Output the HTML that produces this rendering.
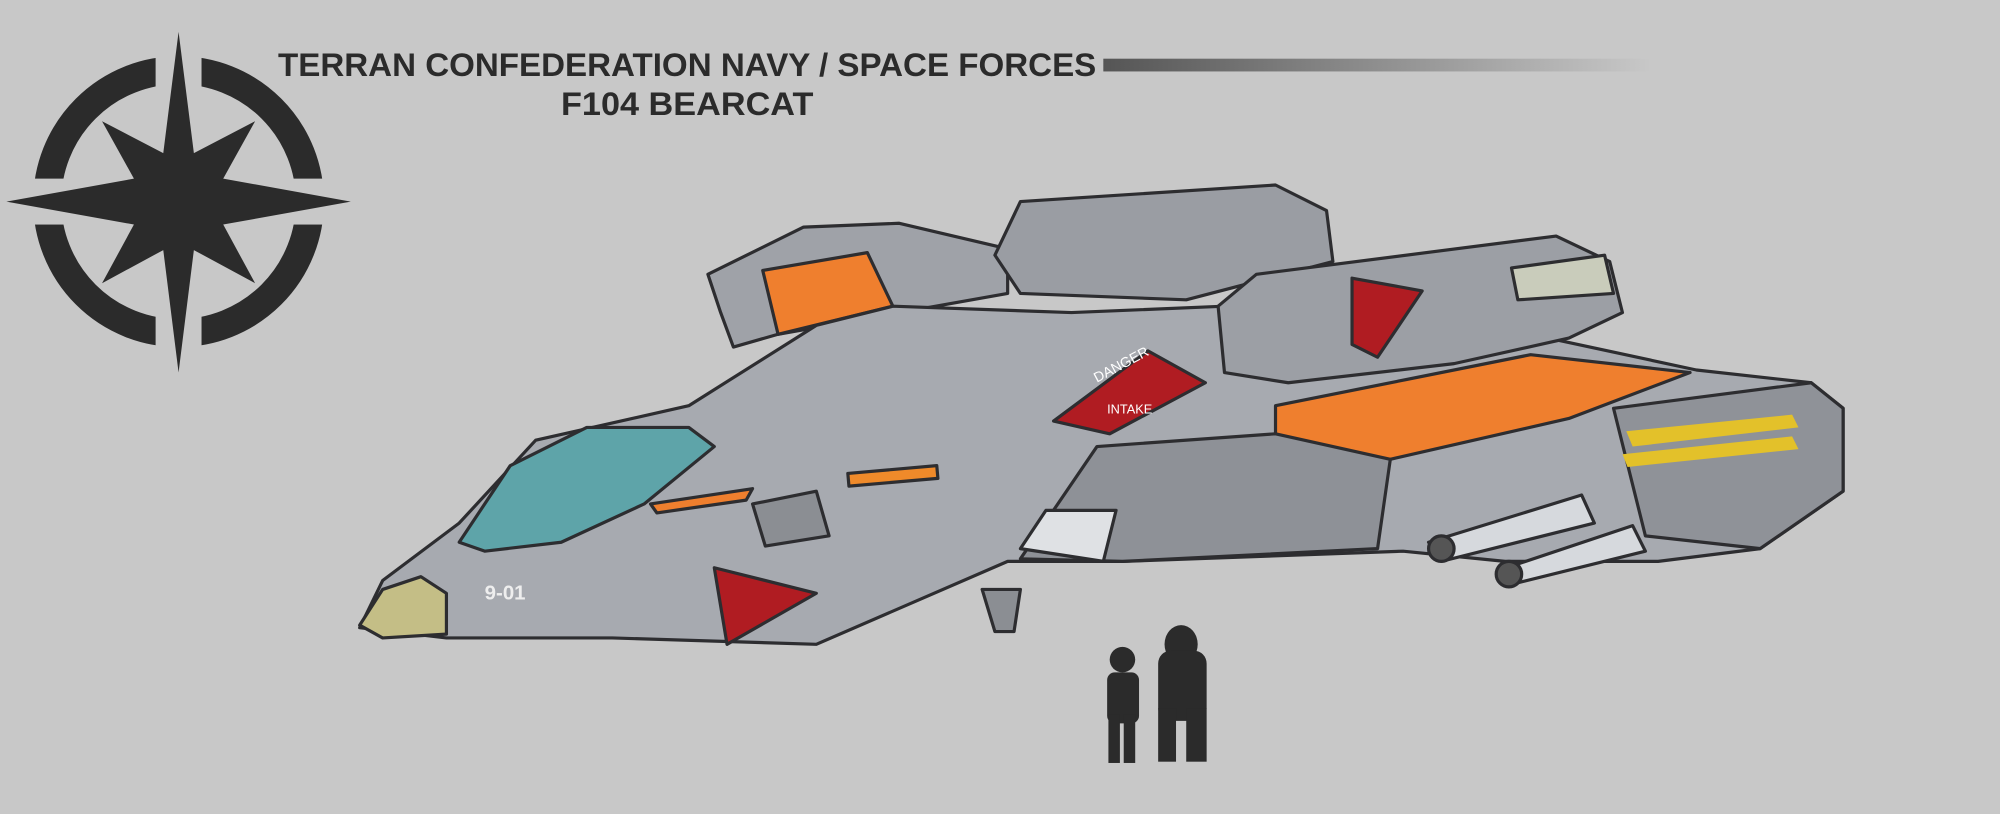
<!DOCTYPE html>
<html><head><meta charset="utf-8"><style>
html,body{margin:0;padding:0;background:#c8c8c8;}
body{width:2000px;height:814px;overflow:hidden;position:relative;}
svg{position:absolute;left:0;top:0;}
.t{position:absolute;font-family:"Liberation Sans",sans-serif;font-weight:bold;color:#2b2b2b;white-space:nowrap;transform-origin:0 0;}
</style></head><body>
<svg width="2000" height="814" viewBox="0 0 1568 638" preserveAspectRatio="none">
<defs>
<linearGradient id="bar" x1="0" x2="1"><stop offset="0" stop-color="#555"/><stop offset="1" stop-color="#c8c8c8"/></linearGradient>
</defs>
<rect x="865" y="46" width="430" height="10" fill="url(#bar)"/>
<g fill="#2b2b2b">
<circle cx="140" cy="158" r="103" fill="none" stroke="#2b2b2b" stroke-width="22"/>
<rect x="122" y="40" width="36" height="236" fill="#c8c8c8"/>
<rect x="20" y="140" width="240" height="36" fill="#c8c8c8"/>
<polygon points="140,25 152,120 200,95 175,140 275,158 175,176 200,222 152,196 140,292 128,196 80,222 105,176 5,158 105,140 80,95 128,120"/>
</g>
<g stroke="#2d2d30" stroke-width="2.5" stroke-linejoin="round">
<polygon fill="#9fa2a8" points="555,215 630,178 705,175 790,195 790,230 610,262 575,272 565,245"/>
<polygon fill="#ef7f2e" points="598,212 680,198 700,240 610,262"/>
<polygon fill="#9a9da3" points="780,200 800,158 1000,145 1040,165 1045,205 930,235 800,230"/>
<polygon fill="#a7aab0" points="282,492 300,455 360,410 420,345 540,318 640,255 700,240 840,245 960,240 1000,290 1200,262 1330,290 1420,300 1445,320 1445,385 1380,430 1300,440 1180,440 1100,432 880,440 790,440 640,505 480,500 350,500"/>
<polygon fill="#9c9fa5" points="955,240 985,215 1220,185 1262,205 1272,245 1230,265 1140,285 1010,300 960,292"/>
<polygon fill="#ef7f2e" points="1000,318 1200,278 1325,292 1230,328 1090,360 1000,356"/>
<polygon fill="#8f9298" points="1265,320 1420,300 1445,320 1445,385 1380,430 1290,420"/>
<polygon fill="#e3c12a" stroke="none" points="1275,338 1405,325 1410,335 1280,350"/>
<polygon fill="#e3c12a" stroke="none" points="1272,356 1405,342 1410,352 1276,366"/>
<polygon fill="#b01c22" points="826,330 900,275 945,300 870,340"/>
<polygon fill="#b01c22" points="1060,218 1115,228 1080,280 1060,270"/>
<polygon fill="#b01c22" points="560,445 640,465 570,505"/>
<polygon fill="#5ea4a9" points="360,425 400,365 460,335 540,335 560,350 505,395 440,425 380,432"/>
<polygon fill="#c4be86" points="282,490 300,462 330,452 350,465 350,497 300,500"/>
<polygon fill="#8e9197" points="860,350 1000,340 1090,360 1080,430 880,440 800,438"/>
<polygon fill="#ef7f2e" points="510,395 590,383 585,392 515,402"/>
<rect x="665" y="368" width="70" height="10" fill="#ef8a2a" transform="rotate(-5 700 373)"/>
<polygon fill="#d6d9dd" points="1120,425 1240,388 1250,410 1130,440"/>
<polygon fill="#d6d9dd" points="1175,447 1280,412 1290,432 1185,458"/>
<circle cx="1130" cy="430" r="10" fill="#555"/>
<circle cx="1183" cy="450" r="10" fill="#555"/>
<polygon fill="#8b8e93" points="770,462 800,462 795,495 780,495"/>
<polygon fill="#8b8e93" points="590,395 640,385 650,420 600,428"/>
<polygon fill="#dfe1e4" points="800,430 820,400 875,400 865,440"/>
<polygon fill="#c9ccbb" points="1185,210 1258,200 1265,230 1190,235"/>
</g>
<text x="380" y="470" font-family="Liberation Sans,sans-serif" font-size="16" font-weight="bold" fill="#eee">9-01</text>
<text x="860" y="300" font-family="Liberation Sans,sans-serif" font-size="11" fill="#fff" transform="rotate(-28 860 300)">DANGER</text>
<text x="868" y="324" font-family="Liberation Sans,sans-serif" font-size="10" fill="#fff">INTAKE</text>
<g fill="#2b2b2b">
<circle cx="880" cy="517" r="10"/>
<rect x="868" y="527" width="25" height="40" rx="6"/>
<rect x="869" y="560" width="9" height="38"/><rect x="881" y="560" width="9" height="38"/>
<ellipse cx="926" cy="505" rx="13" ry="15"/>
<rect x="908" y="510" width="38" height="55" rx="10"/>
<rect x="908" y="555" width="14" height="42"/><rect x="930" y="555" width="16" height="42"/>
</g>
</svg>
<div class="t" style="left:278px;top:47px;font-size:32px;transform:scaleX(1.035);">TERRAN CONFEDERATION NAVY / SPACE FORCES</div>
<div class="t" style="left:561px;top:86px;font-size:32px;transform:scaleX(1.07);">F104 BEARCAT</div>
</body></html>
